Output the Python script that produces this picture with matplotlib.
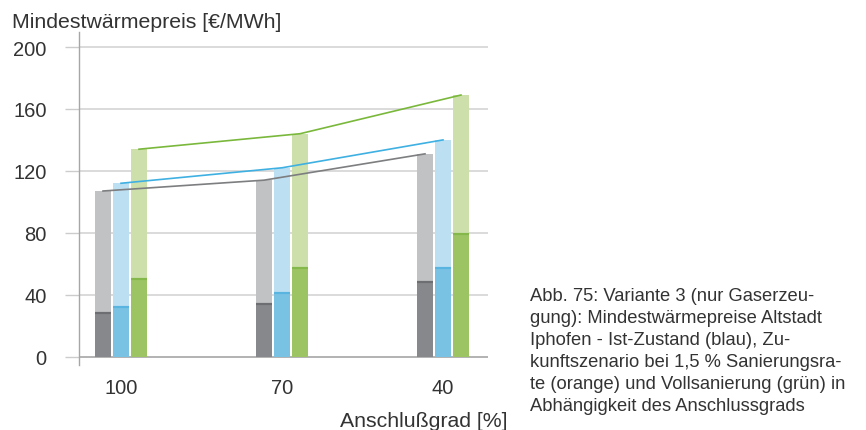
import matplotlib.pyplot as plt
import numpy as np

plt.rcParams['font.family'] = ['Liberation Sans', 'DejaVu Sans']

anschluss = ['100', '70', '40']
grey_base = [28, 34, 48]
grey_total = [107, 114, 131]
blue_base = [32, 41, 57]
blue_total = [112, 122, 140]
green_base = [50, 57, 79]
green_total = [134, 144, 169]
yticks = [0, 40, 80, 120, 160, 200]

caption = ["Abb. 75: Variante 3 (nur Gaserzeu-",
           "gung): Mindestwärmepreise Altstadt",
           "Iphofen - Ist-Zustand (blau), Zu-",
           "kunftszenario bei 1,5 % Sanierungsra-",
           "te (orange) und Vollsanierung (grün) in",
           "Abhängigkeit des Anschlussgrads"]

series = [
    (grey_base, grey_total, '#87888c', '#c1c2c4', '#6d6e71', '#7d7e80'),
    (blue_base, blue_total, '#7ac2e4', '#bddff2', '#5ab4e0', '#3fb0e2'),
    (green_base, green_total, '#9cc463', '#cde0ac', '#84b84a', '#7ab83c'),
]

fig = plt.figure(figsize=(8.66, 4.31), dpi=100)
ax = fig.add_axes([0.0912, 0.1508, 0.4723, 0.7726])

x = np.arange(len(anschluss))
w = 0.0994
step = 0.1118

for i, (base, total, dark, light, cap, line) in enumerate(series):
    xs = x + (i - 1) * step
    base = np.array(base)
    total = np.array(total)
    ax.bar(xs, base, width=w, color=dark, zorder=2)
    ax.bar(xs, total - base, bottom=base, width=w, color=light, zorder=2)
    ax.hlines(base, xs - w / 2, xs + w / 2, color=cap, lw=1.6, zorder=3)
    ax.plot(xs, total, color=line, lw=1.2, zorder=4)

ax.set_xlim(-0.261, 2.2795)
ax.set_ylim(-5.4, 209.7)

ax.set_yticks(yticks)
ax.set_yticklabels([str(t) for t in yticks], fontsize=14.5, color='#333333')
ax.tick_params(axis='y', length=10, width=1, color='#cccccc', pad=13.3)
ax.set_xticks(x)
ax.set_xticklabels(anschluss, fontsize=14.5, color='#333333')
ax.tick_params(axis='x', length=0, pad=9)

for t in yticks:
    ax.axhline(t, color='#a6a6a6' if t == 0 else '#d4d4d4', lw=1.2, zorder=1)

for s in ['top', 'right', 'bottom']:
    ax.spines[s].set_visible(False)
ax.spines['left'].set_color('#a6a6a6')
ax.spines['left'].set_linewidth(1.0)

fig.text(12 / 866, 1 - 27.7 / 431, 'Mindestwärmepreis [€/MWh]', fontsize=15.3,
         color='#333333', va='baseline', ha='left')
fig.text(507 / 866, 1 - 427 / 431, 'Anschlußgrad [%]', fontsize=15.3,
         color='#333333', va='baseline', ha='right')

for k, line in enumerate(caption):
    fig.text(530 / 866, 1 - (301 + 22 * k) / 431, line, fontsize=13.2,
             color='#333333', va='baseline', ha='left')

fig.savefig('out.png', dpi=100)
